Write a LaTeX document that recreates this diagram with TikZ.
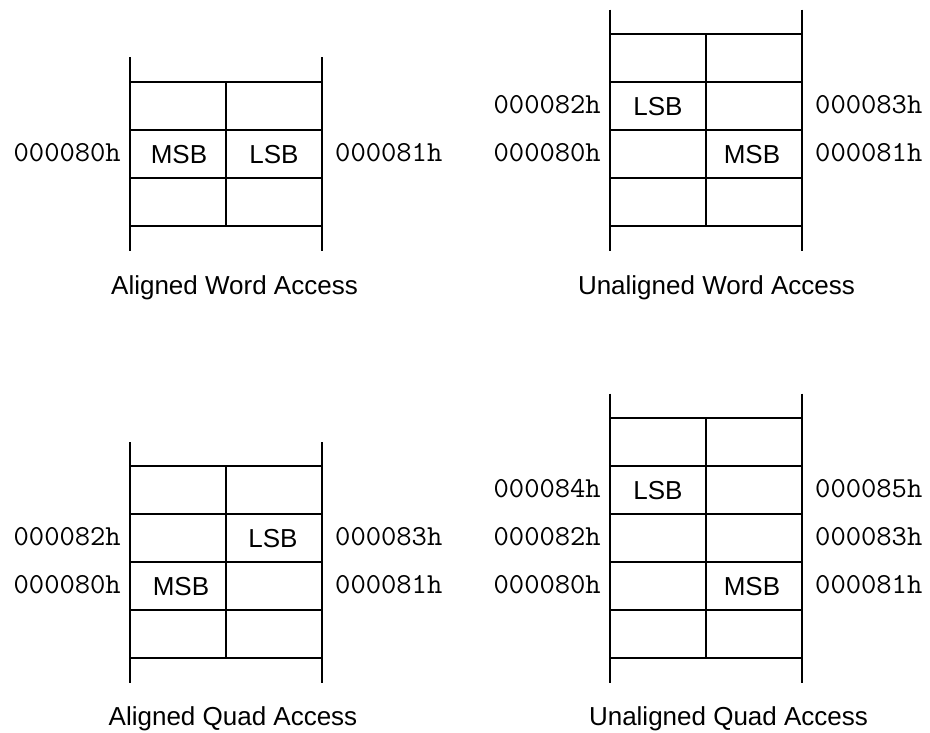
\documentclass[tikz,border=0pt]{standalone}
\usepackage{fontspec}
\setmainfont{Liberation Sans}
\newcommand\addrfont{\ttfamily\fontsize{29}{32}\selectfont}
\newcommand\addrtext[1]{\scalebox{1.025}[1]{#1}}
\begin{document}
\begin{tikzpicture}[x=1pt,y=-1pt,
  grid/.style={line width=1.3pt,line cap=butt},
  cell/.style={anchor=base,inner sep=0pt,font=\fontsize{26}{30}\selectfont},
  addrL/.style={anchor=base east,inner sep=0pt,font=\addrfont},
  addrR/.style={anchor=base west,inner sep=0pt,font=\addrfont},
  caption/.style={anchor=base,inner sep=0pt,font=\fontsize{26}{30}\selectfont}]
\useasboundingbox (0,0) rectangle (930,732);

% ---------- Aligned Word Access ----------
\draw[grid] (130,57) -- (130,250.5) (322,57) -- (322,250.5);
\foreach \y in {82,130,178,226} \draw[grid] (130,\y) -- (322,\y);
\draw[grid] (226,82) -- (226,226);
\node[addrL] (a80) at (121,161.5) {\addrtext{000080h}};
\node[addrR] (a81) at (335,161.5) {\addrtext{000081h}};
\node[cell] (amsb) at (179,163.5) {MSB};
\node[cell] (alsb) at (274,163.5) {LSB};
\node[caption] (acap) at (234.5,294.5) {Aligned Word Access};

% ---------- Unaligned Word Access ----------
\draw[grid] (610,9.5) -- (610,250.5) (802,9.5) -- (802,250.5);
\foreach \y in {34,82,130,178,226} \draw[grid] (610,\y) -- (802,\y);
\draw[grid] (706,34) -- (706,226);
\node[addrL] (b82) at (601,113.5) {\addrtext{000082h}};
\node[addrR] (b83) at (815,113.5) {\addrtext{000083h}};
\node[addrL] (b80) at (601,161.5) {\addrtext{000080h}};
\node[addrR] (b81) at (815,161.5) {\addrtext{000081h}};
\node[cell] (blsb) at (658,115.5) {LSB};
\node[cell] (bmsb) at (752,163.5) {MSB};
\node[caption] (bcap) at (716.5,294.5) {Unaligned Word Access};

% ---------- Aligned Quad Access ----------
\draw[grid] (130,442) -- (130,682.5) (322,442) -- (322,682.5);
\foreach \y in {466,514,562,610,658} \draw[grid] (130,\y) -- (322,\y);
\draw[grid] (226,466) -- (226,658);
\node[addrL] (c82) at (121,545.5) {\addrtext{000082h}};
\node[addrR] (c83) at (335,545.5) {\addrtext{000083h}};
\node[addrL] (c80) at (121,593.5) {\addrtext{000080h}};
\node[addrR] (c81) at (335,593.5) {\addrtext{000081h}};
\node[cell] (clsb) at (273,547.5) {LSB};
\node[cell] (cmsb) at (181,595.5) {MSB};
\node[caption] (ccap) at (233,725.5) {Aligned Quad Access};

% ---------- Unaligned Quad Access ----------
\draw[grid] (610,393.5) -- (610,682.5) (802,393.5) -- (802,682.5);
\foreach \y in {418,466,514,562,610,658} \draw[grid] (610,\y) -- (802,\y);
\draw[grid] (706,418) -- (706,658);
\node[addrL] (d84) at (601,497.5) {\addrtext{000084h}};
\node[addrR] (d85) at (815,497.5) {\addrtext{000085h}};
\node[addrL] (d82) at (601,545.5) {\addrtext{000082h}};
\node[addrR] (d83) at (815,545.5) {\addrtext{000083h}};
\node[addrL] (d80) at (601,593.5) {\addrtext{000080h}};
\node[addrR] (d81) at (815,593.5) {\addrtext{000081h}};
\node[cell] (dlsb) at (658,499.5) {LSB};
\node[cell] (dmsb) at (752,595.5) {MSB};
\node[caption] (dcap) at (728.5,725.5) {Unaligned Quad Access};
\end{tikzpicture}
\end{document}
